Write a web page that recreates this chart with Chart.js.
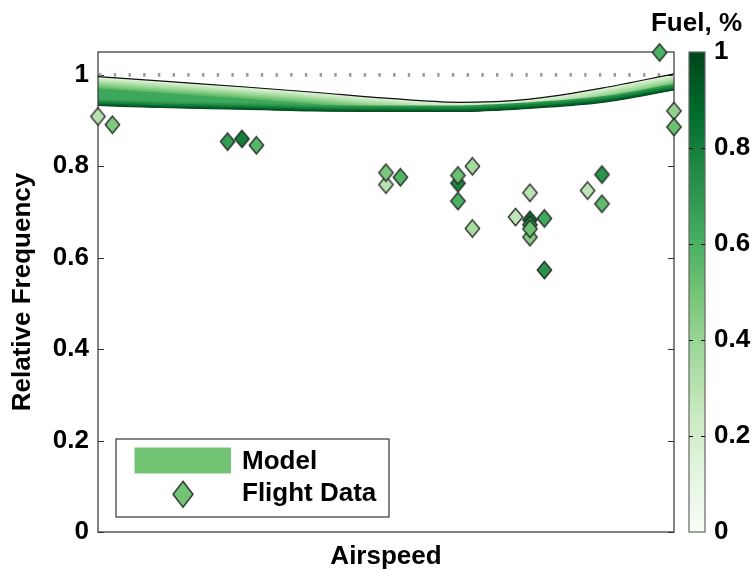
<!DOCTYPE html>
<html>
<head>
<meta charset="utf-8">
<script src="https://cdn.jsdelivr.net/npm/chart.js@4.4.1/dist/chart.umd.min.js"></script>
<style>
  html, body { margin: 0; padding: 0; background: #fff; }
  #wrap { width: 755px; height: 572px; }
</style>
</head>
<body>
<div id="wrap"><canvas id="chart" width="755" height="572"></canvas></div>
<script>
// ---- Flight data: airspeed bin, relative frequency, fuel fraction ----
const flightAirspeed = [0, 1, 9, 10, 11, 20, 20, 21, 25, 25, 25, 26, 26, 29, 30, 30, 30, 30, 30, 31, 31, 34, 35, 35, 39, 40, 40];
const flightFreq     = [0.909, 0.891, 0.854, 0.860, 0.846, 0.760, 0.786, 0.776, 0.763, 0.780, 0.724, 0.800, 0.664, 0.689, 0.742, 0.645, 0.683, 0.672, 0.663, 0.686, 0.573, 0.747, 0.782, 0.718, 1.049, 0.921, 0.886];
const flightFuel     = [0.30, 0.47, 0.68, 0.80, 0.57, 0.30, 0.48, 0.58, 0.78, 0.52, 0.60, 0.37, 0.35, 0.27, 0.30, 0.45, 0.85, 0.72, 0.52, 0.63, 0.72, 0.28, 0.72, 0.55, 0.60, 0.42, 0.52];

// ---- Model envelope (empty tank on top, full tank at the bottom) ----
const modelAirspeed = [0, 5, 10, 15, 20, 25, 30, 35, 40];
const modelUpper    = [0.996, 0.985, 0.974, 0.962, 0.949, 0.940, 0.947, 0.971, 1.002];
const modelLower    = [0.933, 0.928, 0.925, 0.921, 0.920, 0.920, 0.927, 0.940, 0.967];

// ---- Reference level ----
const refAirspeed = [0, 40];
const refFreq     = [1, 1];

// ---- Tick labels ----
const freqTicks = [0, 0.2, 0.4, 0.6, 0.8, 1];
const fuelTicks = [0, 0.2, 0.4, 0.6, 0.8, 1];
const fuelTitle = 'Fuel, %';

// Greens colour map used for the fuel colour scale
const greens = ['#f7fcf5', '#e5f5e0', '#c7e9c0', '#a1d99b', '#74c476', '#41ab5d', '#238b45', '#006d2c', '#00441b'];
function hexRgb(h) { return [1, 3, 5].map(i => parseInt(h.slice(i, i + 2), 16)); }
function fuelColor(f) {
  const t = Math.min(Math.max(f, 0), 1) * (greens.length - 1);
  const i = Math.min(Math.floor(t), greens.length - 2);
  const u = t - i;
  const a = hexRgb(greens[i]), b = hexRgb(greens[i + 1]);
  const c = a.map((v, k) => Math.round(v + (b[k] - v) * u));
  return `rgb(${c[0]},${c[1]},${c[2]})`;
}
const tickText = v => String(Math.round(v * 10) / 10);

// Diamond marker sprite (slightly taller than wide)
function diamondSprite(fill, hw, hh) {
  const pad = 2;
  const c = document.createElement('canvas');
  c.width = Math.ceil(2 * hw + 2 * pad);
  c.height = Math.ceil(2 * hh + 2 * pad);
  const g = c.getContext('2d');
  const cx = c.width / 2, cy = c.height / 2;
  g.beginPath();
  g.moveTo(cx, cy - hh); g.lineTo(cx + hw, cy); g.lineTo(cx, cy + hh); g.lineTo(cx - hw, cy);
  g.closePath();
  g.fillStyle = fill; g.fill();
  g.lineWidth = 1.3; g.strokeStyle = '#222'; g.stroke();
  return c;
}
const flightSprites = flightFuel.map(f => diamondSprite(fuelColor(f), 7.2, 8.7));

const FONT = { family: "'Liberation Sans', Arial, Helvetica, sans-serif", size: 26, weight: 'bold' };
Chart.defaults.font = { ...FONT };
Chart.defaults.color = '#000';

// Shaded model band, plot frame and inward ticks
const bandPlugin = {
  id: 'modelBand',
  beforeDatasetsDraw(chart) {
    const { ctx, chartArea: a } = chart;
    const up = chart.getDatasetMeta(1).dataset;
    const lo = chart.getDatasetMeta(2).dataset;
    up.updateControlPoints(a, 'x');
    lo.updateControlPoints(a, 'x');
    ctx.save();
    ctx.beginPath(); ctx.rect(a.left, a.top, a.width, a.height); ctx.clip();
    ctx.beginPath(); up.path(ctx); ctx.lineTo(a.right, a.bottom); ctx.lineTo(a.left, a.bottom); ctx.closePath(); ctx.clip();
    ctx.beginPath(); lo.path(ctx); ctx.lineTo(a.right, a.top); ctx.lineTo(a.left, a.top); ctx.closePath(); ctx.clip();
    ctx.fillStyle = fuelColor(0.64);
    ctx.fillRect(a.left, a.top, a.width, a.height);
    ctx.lineCap = 'butt';
    // low-fuel shades next to the upper edge
    for (let i = 7; i >= 1; i--) {
      ctx.beginPath(); up.path(ctx);
      ctx.lineWidth = i * 3.4;
      ctx.strokeStyle = fuelColor(0.1 + i * 0.065);
      ctx.stroke();
    }
    // high-fuel shades along the lower edge
    for (let i = 3; i >= 1; i--) {
      ctx.beginPath(); lo.path(ctx);
      ctx.lineWidth = i * 4;
      ctx.strokeStyle = fuelColor(1.0 - i * 0.1);
      ctx.stroke();
    }
    ctx.restore();

    // frame
    ctx.save();
    ctx.strokeStyle = '#333';
    ctx.lineWidth = 1.2;
    ctx.strokeRect(a.left, a.top, a.width, a.height);
    const ys = chart.scales.y;
    ctx.beginPath();
    for (const v of freqTicks) {
      const py = Math.round(ys.getPixelForValue(v)) + 0.5;
      ctx.moveTo(a.left, py); ctx.lineTo(a.left + 6, py);
      ctx.moveTo(a.right, py); ctx.lineTo(a.right - 6, py);
    }
    ctx.lineWidth = 1;
    ctx.stroke();
    ctx.restore();
  }
};

// Colour bar beside the fuel axis, with its heading
const colorbarPlugin = {
  id: 'fuelBar',
  afterDraw(chart) {
    const { ctx, chartArea: a } = chart;
    const fs = chart.scales.fuel;
    const x0 = a.right + 15, x1 = a.right + 31;
    const yTop = fs.getPixelForValue(1), yBot = fs.getPixelForValue(0);
    const steps = 64;
    ctx.save();
    for (let k = 0; k < steps; k++) {
      const v0 = k / steps, v1 = (k + 1) / steps;
      const p0 = fs.getPixelForValue(v0), p1 = fs.getPixelForValue(v1);
      ctx.fillStyle = fuelColor((v0 + v1) / 2);
      ctx.fillRect(x0, p1, x1 - x0, p0 - p1 + 0.6);
    }
    ctx.strokeStyle = '#666';
    ctx.lineWidth = 1.2;
    ctx.strokeRect(x0, yTop, x1 - x0, yBot - yTop);
    ctx.beginPath();
    for (const v of fuelTicks) {
      if (v === 0 || v === 1) continue;
      const py = Math.round(fs.getPixelForValue(v)) + 0.5;
      ctx.moveTo(x0, py); ctx.lineTo(x0 + 4, py);
      ctx.moveTo(x1, py); ctx.lineTo(x1 - 4, py);
    }
    ctx.strokeStyle = '#111';
    ctx.lineWidth = 1;
    ctx.stroke();

    ctx.fillStyle = '#000';
    ctx.font = `bold ${FONT.size}px ${FONT.family}`;
    ctx.textAlign = 'right';
    ctx.textBaseline = 'middle';
    ctx.fillText(fuelTitle, a.right + 68, 23.5);
    ctx.restore();
  }
};

// Legend box inside the plot
const legendSprite = diamondSprite(fuelColor(0.5), 10, 13);
const legendPlugin = {
  id: 'boxLegend',
  afterDatasetsDraw(chart) {
    const { ctx, chartArea: a } = chart;
    const bx = a.left + 18, by = a.bottom - 93, bw = 273, bh = 78;
    ctx.save();
    ctx.fillStyle = '#fff';
    ctx.fillRect(bx, by, bw, bh);
    ctx.strokeStyle = '#333';
    ctx.lineWidth = 1.2;
    ctx.strokeRect(bx, by, bw, bh);
    ctx.fillStyle = fuelColor(0.5);
    ctx.fillRect(bx + 18.5, by + 8.5, 96.5, 26);
    ctx.drawImage(legendSprite, bx + 67 - legendSprite.width / 2, by + 55.3 - legendSprite.height / 2);
    ctx.fillStyle = '#000';
    ctx.font = `bold ${FONT.size}px ${FONT.family}`;
    ctx.textAlign = 'left';
    ctx.textBaseline = 'middle';
    ctx.fillText(chart.data.datasets[1].label, bx + 126, by + 22.5);
    ctx.fillText(chart.data.datasets[0].label, bx + 126, by + 54.5);
    ctx.restore();
  }
};

const pts = (xs, ys) => xs.map((x, i) => ({ x, y: ys[i] }));
const noEdgePad = s => { s.paddingTop = 0; s.paddingBottom = 0; };

new Chart(document.getElementById('chart'), {
  type: 'scatter',
  data: {
    datasets: [
      {
        label: 'Flight Data',
        data: pts(flightAirspeed, flightFreq),
        showLine: false,
        pointStyle: c => flightSprites[c.dataIndex] || 'rectRot',
        pointRadius: 8,
        backgroundColor: c => fuelColor(flightFuel[c.dataIndex] ?? 0.5),
        borderColor: '#222',
        clip: false
      },
      {
        label: 'Model',
        data: pts(modelAirspeed, modelUpper),
        showLine: true,
        cubicInterpolationMode: 'monotone',
        borderColor: '#111',
        borderWidth: 1.2,
        pointRadius: 0,
        fill: false
      },
      {
        label: 'Model (full tank)',
        data: pts(modelAirspeed, modelLower),
        showLine: true,
        cubicInterpolationMode: 'monotone',
        borderColor: '#0b4a22',
        borderWidth: 1.2,
        pointRadius: 0,
        fill: false
      },
      {
        label: 'Reference',
        data: pts(refAirspeed, refFreq),
        showLine: true,
        borderColor: '#9a9a9a',
        borderWidth: 3.6,
        borderDash: [2.4, 12.3],
        borderDashOffset: 13.6,
        borderCapStyle: 'butt',
        pointRadius: 0,
        fill: false
      }
    ]
  },
  options: {
    responsive: false,
    animation: false,
    events: [],
    layout: { padding: { left: 0, right: 1, top: 52, bottom: 0 } },
    plugins: {
      legend: { display: false },
      tooltip: { enabled: false },
      title: { display: false }
    },
    scales: {
      x: {
        type: 'linear',
        position: 'bottom',
        min: 0,
        max: 40,
        grid: { display: false, drawTicks: false },
        border: { display: false },
        ticks: { display: false },
        title: { display: true, text: 'Airspeed', font: { ...FONT }, color: '#000', padding: { top: 0, bottom: 0 } },
        afterFit: s => { s.height = 40; s.paddingLeft = 0; s.paddingRight = 0; }
      },
      y: {
        type: 'linear',
        position: 'left',
        min: 0,
        max: 1.05,
        grid: { display: false, drawTicks: false },
        border: { display: false },
        ticks: { padding: 9, font: { ...FONT }, color: '#000', callback: tickText },
        afterBuildTicks: s => { s.ticks = freqTicks.map(v => ({ value: v })); },
        title: { display: true, text: 'Relative Frequency', font: { ...FONT }, color: '#000', padding: { top: 7, bottom: 0 } },
        afterFit: s => { s.width = 98; noEdgePad(s); }
      },
      fuel: {
        type: 'linear',
        position: 'right',
        min: 0,
        max: 1,
        grid: { display: false, drawTicks: false },
        border: { display: false },
        ticks: { padding: 40, font: { ...FONT }, color: '#000', callback: tickText },
        afterBuildTicks: s => { s.ticks = fuelTicks.map(v => ({ value: v })); },
        afterFit: s => { s.width = 80; noEdgePad(s); }
      }
    }
  },
  plugins: [bandPlugin, colorbarPlugin, legendPlugin]
});
</script>
</body>
</html>
